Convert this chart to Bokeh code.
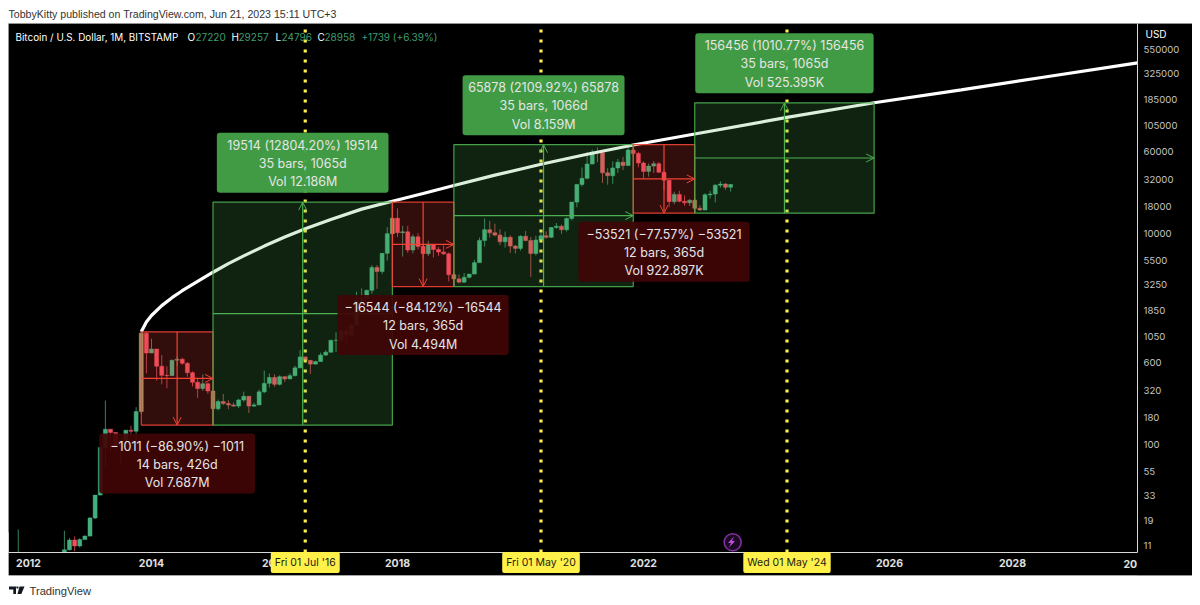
from bokeh.plotting import figure
from bokeh.models import (Range1d, FixedTicker, NumeralTickFormatter, Label, Arrow, OpenHead,
                          BoxAnnotation, PolyAnnotation, ColumnDataSource)
from bokeh.embed import file_html
from bokeh.resources import INLINE

# ---------- DATA ----------
# monthly bars, first bar = Nov 2011
opens = [3.0, 3.1, 4.7, 5.5, 4.9, 4.9, 5.0, 5.2, 6.6, 9.2, 10.0, 12.4, 10.9, 12.5,
         13.5, 20, 33, 93, 139, 129, 97, 106, 136, 133, 204, 1130,
         732, 800, 550, 450, 447, 627, 640, 585, 477, 387, 338, 375,
         320, 217, 254, 244, 236, 230, 263, 285, 230, 236, 314, 378,
         430, 370, 437, 416, 447, 530, 672, 624, 575, 608, 700, 745,
         965, 965, 1190, 1080, 1350, 2300, 2420, 2875, 4735, 4340, 6440, 9900,
         13880, 10100, 10300, 6925, 9240, 7490, 6400, 7730, 7010, 6620, 6370, 4040,
         3690, 3435, 3820, 4100, 5260, 8550, 10800, 10080, 9600, 8290, 9150, 7550,
         7180, 9350, 8520, 6420, 8620, 9450, 9140, 11320, 11650, 10780, 13780, 19700,
         28950, 33100, 45200, 58800, 57700, 37300, 35000, 41500, 47100, 43800, 61300, 57000,
         46200, 38500, 43200, 45500, 37700, 31800, 19900, 23300, 20050, 19400, 20500, 17200,
         16600, 23100, 23500, 28500, 29200, 27220]
highs = [15.6, 4.6, 7.2, 6.5, 5.5, 5.4, 5.4, 6.7, 9.4, 15.2, 12.9, 13.4, 12.9, 13.7,
         20.5, 33, 95, 259, 139, 130, 110, 136, 150, 225, 1163, 1163,
         1000, 800, 700, 548, 630, 680, 660, 600, 490, 415, 460, 385,
         320, 265, 300, 262, 248, 270, 315, 285, 248, 330, 500, 470,
         460, 450, 440, 470, 555, 780, 680, 630, 620, 740, 780, 980,
         1150, 1200, 1350, 1350, 2790, 3000, 2925, 4980, 5000, 6470, 11400, 19666,
         17170, 11750, 11700, 9760, 10000, 7780, 8480, 7750, 7400, 7680, 6570, 4310,
         4070, 4200, 4100, 5600, 9100, 13800, 13100, 12300, 10900, 10370, 9520, 7750,
         9580, 10500, 9180, 9460, 10080, 10400, 11430, 12480, 12050, 14100, 19850, 29300,
         41950, 58350, 61800, 64900, 59500, 41300, 48000, 50500, 52900, 67000, 69000, 59000,
         47900, 45800, 48200, 47400, 40000, 31900, 24700, 25200, 22800, 21000, 21500, 18400,
         23900, 25250, 29200, 31000, 29800, 29257]
lows = [2.0, 2.2, 4.7, 4.2, 4.7, 4.8, 4.9, 5.2, 6.6, 7.1, 9.9, 9.7, 10.5, 12.5,
        13.4, 19.6, 33, 60, 85, 88, 65, 100, 118, 100, 195, 470,
        732, 400, 370, 340, 447, 550, 565, 437, 354, 275, 320, 300,
        152, 210, 235, 215, 226, 220, 253, 198, 225, 235, 305, 345,
        350, 360, 390, 415, 440, 530, 600, 465, 570, 605, 690, 740,
        750, 925, 890, 1060, 1330, 2080, 1830, 2670, 2970, 4110, 5500, 10400,
        9200, 6000, 6500, 6430, 7000, 5750, 6070, 5880, 6100, 6200, 3500, 3122,
        3350, 3370, 3730, 4100, 5350, 7460, 9100, 9320, 7710, 7300, 6500, 6430,
        6850, 8400, 3850, 6150, 8100, 8900, 8980, 11000, 9860, 10370, 13200, 17600,
        27700, 32300, 45000, 47000, 30000, 28800, 29300, 37300, 39600, 43300, 53000, 42000,
        32900, 34300, 37200, 37600, 25400, 17600, 18800, 19600, 18200, 18100, 15480, 16300,
        16500, 21350, 19570, 26900, 25800, 24796]
closes = [3.1, 4.7, 5.5, 4.9, 4.9, 5.0, 5.2, 6.6, 9.2, 10.0, 12.4, 10.9, 12.5, 13.5,
          20, 33, 93, 139, 129, 97, 106, 136, 133, 204, 1130, 732,
          800, 550, 450, 447, 627, 640, 585, 477, 387, 338, 375, 320,
          217, 254, 244, 236, 230, 263, 285, 230, 236, 314, 378, 430,
          370, 437, 416, 447, 530, 672, 624, 575, 608, 700, 745, 965,
          965, 1190, 1080, 1350, 2300, 2420, 2875, 4735, 4340, 6440, 9900, 13880,
          10100, 10300, 6925, 9240, 7490, 6400, 7730, 7010, 6620, 6370, 4040, 3690,
          3435, 3820, 4100, 5260, 8550, 10800, 10080, 9600, 8290, 9150, 7550, 7180,
          9350, 8520, 6420, 8620, 9450, 9140, 11320, 11650, 10780, 13780, 19700, 28950,
          33100, 45200, 58800, 57700, 37300, 35000, 41500, 47100, 43800, 61300, 57000, 46200,
          38500, 43200, 45500, 37700, 31800, 19900, 23300, 20050, 19400, 20500, 17200, 16600,
          23100, 23500, 28500, 29200, 27200, 28958]

# white curve: months since Jan 2012 / price
curve_months = [22, 23, 24, 26, 28, 30, 33, 36, 39, 42, 46, 50, 54, 59, 65, 71,
                77, 83, 91, 100, 109, 118, 130, 148, 165, 182, 198, 216.4]
curve_prices = [1163, 1440, 1660, 2060, 2450, 2850, 3500, 4266, 5150, 6100, 7550, 9200, 11000,
                13500, 16900, 20100, 23800, 28300, 35500, 45000, 56000, 68500, 87000, 125000,
                172000, 228000, 300000, 411000]

# measuring tools: start / end month, top / bottom price, kind
box_starts = [22, 36, 71, 83, 118, 130]
box_ends = [36, 71, 83, 118, 130, 165]
box_tops = [1163, 19666, 19666, 69000, 69000, 171936]
box_bottoms = [152, 152, 3122, 3122, 15480, 15480]
box_kinds = ["down", "up", "down", "up", "down", "up"]
box_line1 = ["−1011 (−86.90%) −1011", "19514 (12804.20%) 19514", "−16544 (−84.12%) −16544",
             "65878 (2109.92%) 65878", "−53521 (−77.57%) −53521", "156456 (1010.77%) 156456"]
box_line2 = ["14 bars, 426d", "35 bars, 1065d", "12 bars, 365d",
             "35 bars, 1066d", "12 bars, 365d", "35 bars, 1065d"]
box_line3 = ["Vol 7.687M", "Vol 12.186M", "Vol 4.494M",
             "Vol 8.159M", "Vol 922.897K", "Vol 525.395K"]

event_months = [54, 100, 148]
event_labels = ["Fri 01 Jul '16", "Fri 01 May '20", "Wed 01 May '24"]

y_ticks = [550000, 325000, 185000, 105000, 60000, 32000, 18000, 10000, 5500, 3250,
           1850, 1050, 600, 320, 180, 100, 55, 33, 19, 11]
x_tick_months = [0, 24, 48, 72, 96, 120, 144, 168, 192]
x_tick_labels = ["2012", "2014", "2016", "2018", "2020", "2022", "2024", "2026", "2028"]

title_text = "TobbyKitty published on TradingView.com, Jun 21, 2023 15:11 UTC+3"
legend_name = "Bitcoin / U.S. Dollar, 1M, BITSTAMP"
legend_keys = ["O", "H", "L", "C"]
legend_vals = ["27220", "29257", "24796", "28958"]
legend_change = "+1739 (+6.39%)"

# ---------- LAYOUT AND STYLE ----------
PX_MONTH = 5.125           # pixels per month
PX_DEC = 105.55            # pixels per price decade
GREEN = "#45ae7e"
RED = "#ee4f5f"
FONT = "Inter"
MUTED = {22: "#a09c70", 71: "#a09c70", 36: "#c4705f", 130: "#c4705f", 83: "#c4705f"}
CHART_L, CHART_R, CHART_T, CHART_B = 8, 1137, 23, 552   # plot area on the canvas
X0_PX, Y0_PX = 28, 49      # canvas position of month 0 and of the 550000 tick


def month_at(px):
    return (px - X0_PX) / PX_MONTH


def price_at(py):
    return 550000 * 10 ** (-(py - Y0_PX) / PX_DEC)


def shift(price, px):
    """price lying px screen pixels above (px>0) or below the given price"""
    return price * 10 ** (px / PX_DEC)


Y_MIN, Y_MAX = price_at(CHART_B), price_at(CHART_T)
X_MIN, X_MAX = month_at(CHART_L), month_at(CHART_R)

first_month = -2
months = [first_month + i for i in range(len(opens))]

p = figure(width=1192, height=597, output_backend="svg", toolbar_location=None,
           x_range=Range1d(month_at(0), month_at(1192)), y_range=Range1d(price_at(597), price_at(0)),
           y_axis_type="log", y_axis_location="right",
           min_border_left=0, min_border_right=0, min_border_top=0, min_border_bottom=0)
p.background_fill_color = "#ffffff"
p.border_fill_color = "#ffffff"
p.outline_line_color = None
p.grid.visible = False


def plate(l, r, t, b, color, level, line=None):
    p.add_layout(BoxAnnotation(left=l, right=r, top=t, bottom=b,
                               left_units="canvas", right_units="canvas", top_units="canvas", bottom_units="canvas",
                               fill_color=color, fill_alpha=1, line_color=line, line_width=1, level=level))


# chart plate below everything
plate(CHART_L, 1192, CHART_T, 575, "#000000", "underlay", line="#c4c4c4")

for ax in (p.xaxis[0], p.yaxis[0]):
    ax.axis_line_color = "#d8d8d8"
    ax.axis_line_width = 1
    ax.major_tick_line_color = None
    ax.major_tick_out = 0
    ax.major_tick_in = 0
    ax.minor_tick_line_color = None
    ax.major_label_text_font = FONT
p.yaxis[0].fixed_location = X_MAX
p.yaxis[0].bounds = (Y_MIN, Y_MAX)
p.yaxis[0].major_label_text_font_size = "9.6px"
p.yaxis[0].ticker = FixedTicker(ticks=y_ticks)
p.yaxis[0].formatter = NumeralTickFormatter(format="0")
p.yaxis[0].major_label_text_color = "#c4c4c4"
p.yaxis[0].major_label_standoff = 6
p.xaxis[0].fixed_location = Y_MIN
p.xaxis[0].bounds = (X_MIN, X_MAX)
p.xaxis[0].major_label_text_font_size = "10.5px"
p.xaxis[0].ticker = FixedTicker(ticks=x_tick_months)
p.xaxis[0].major_label_overrides = dict(zip(x_tick_months, x_tick_labels))
p.xaxis[0].major_label_text_color = "#e0e0e0"
p.xaxis[0].major_label_text_font_style = "bold"
p.xaxis[0].major_label_standoff = 6

# candles
body_cols = [MUTED.get(m, GREEN if c >= o else RED) for m, o, c in zip(months, opens, closes)]
src = ColumnDataSource(dict(x=months, o=opens, h=highs, l=lows, c=closes, col=body_cols,
                            top=[max(a, b) for a, b in zip(opens, closes)],
                            bot=[min(a, b) for a, b in zip(opens, closes)]))
p.segment("x", "h", "x", "l", source=src, line_color="col", line_width=1, line_alpha=0.75)
p.vbar(x="x", bottom="bot", top="top", width=0.78, source=src, fill_color="col", line_color="col", line_width=0.5)

# curve
p.line(curve_months, curve_prices, line_color="#ffffff", line_width=3.2)

# event lines
for m in event_months:
    p.line([m, m], [Y_MIN, Y_MAX], line_color="#fff04a", line_width=3.2, line_dash=[3, 7], line_cap="butt")

# strips under the plot area hide what falls below the price scale
plate(CHART_L, CHART_R, CHART_B, 575, "#000000", "glyph")
plate(CHART_L, CHART_R, 575, 597, "#ffffff", "glyph")
plate(0, CHART_L, CHART_B - 20, 597, "#ffffff", "glyph")

# boxes
for s, e, t, b, k in zip(box_starts, box_ends, box_tops, box_bottoms, box_kinds):
    col = "#f44336" if k == "down" else "#4caf50"
    p.quad(left=[s], right=[e], top=[t], bottom=[b], fill_color=col, fill_alpha=0.2,
           line_color=col, line_width=1.2, line_alpha=0.9)
    mid_x = (s + e) / 2
    mid_y = (t * b) ** 0.5
    p.add_layout(Arrow(end=OpenHead(size=8, line_color=col, line_width=1), x_start=s, y_start=mid_y, x_end=e, y_end=mid_y,
                       line_color=col, line_width=1.2, level="glyph"))
    y_s, y_e = (t, b) if k == "down" else (b, t)
    p.add_layout(Arrow(end=OpenHead(size=8, line_color=col, line_width=1), x_start=mid_x, y_start=y_s, x_end=mid_x, y_end=y_e,
                       line_color=col, line_width=1.2, level="glyph"))

# lightning marker
p.scatter(x=[137.4], y=[11.8], size=17, marker="circle", fill_color="#1b0a22", line_color="#7f2f9e", line_width=1.6)
p.add_layout(PolyAnnotation(xs=[733.5, 727.5, 730.5, 728.5, 734.5, 731.5], ys=[536, 542.5, 542.5, 547, 540.5, 540.5],
                            xs_units="canvas", ys_units="canvas", fill_color="#c24ae6", fill_alpha=1, line_color=None))

# tool labels
half_widths = [15.2, 16.75, 16.7, 15.8, 16.7, 17.4]
for i, (s, e, t, b, k) in enumerate(zip(box_starts, box_ends, box_tops, box_bottoms, box_kinds)):
    mid_x = (s + e) / 2
    l_top = shift(b, -8.5) if k == "down" else shift(t, 9.5 + 60)
    l_bot = shift(l_top, -60)
    hw = half_widths[i]
    col = "#3f0506" if k == "down" else "#43a047"
    p.add_layout(BoxAnnotation(left=mid_x - hw, right=mid_x + hw, top=l_top, bottom=l_bot, fill_color=col,
                               fill_alpha=0.93 if k == "down" else 0.97, line_color=None, border_radius=3,
                               level="annotation"))
    for line, dy in zip((box_line1[i], box_line2[i], box_line3[i]), (12.5, 30.5, 49)):
        p.add_layout(Label(x=mid_x, y=shift(l_top, -dy), text=line, text_align="center", text_baseline="middle",
                           text_font=FONT, text_font_size="12.5px", text_color="#e6e6e6", level="annotation"))


def chrome(text, x, y, size="11px", color="#ffffff", align="left", weight="normal", font=FONT):
    p.add_layout(Label(x=x, y=y, x_units="canvas", y_units="canvas", text=text, text_font=font,
                       text_font_size=size, text_color=color, text_align=align, text_baseline="middle",
                       text_font_style=weight, level="annotation"))


# event tags on the time axis
for m, txt in zip(event_months, event_labels):
    p.add_layout(Label(x=m, y=562, x_units="data", y_units="canvas", text=txt, text_font=FONT,
                       text_font_size="10.5px", text_color="#1c1c10", text_align="center",
                       text_baseline="middle", background_fill_color="#fff04a", background_fill_alpha=1,
                       padding=4, border_radius=2, level="annotation"))

chrome("20", 1123, 563, size="10.5px", color="#e0e0e0", weight="bold")
chrome("USD", 1145, 33, size="10px", color="#ffffff")

# heading and legend
chrome(title_text, 8, 13, size="10.6px", color="#333333", font="Liberation Sans")
chrome(legend_name, 15, 36, size="9.9px", color="#ffffff")
for key, val, kx, vx in zip(legend_keys, legend_vals, [187, 231, 275, 317], [195, 238, 281, 324]):
    chrome(key, kx, 36, size="10px", color="#ffffff")
    chrome(val, vx, 36, size="10px", color="#3f9c6f")
chrome(legend_change, 361, 36, size="10px", color="#3f9c6f")

# footer
chrome("TradingView", 29, 590, size="11.2px", color="#333333", font="Liberation Sans")
logo_col = "#131722"
p.add_layout(PolyAnnotation(xs=[8.5, 15.5, 15.5, 12.8, 12.8, 11.2, 11.2, 8.5], ys=[586, 586, 593.5, 593.5, 589, 589, 589, 589],
                            xs_units="canvas", ys_units="canvas", fill_color=logo_col, fill_alpha=1, line_color=None))
p.add_layout(PolyAnnotation(xs=[19, 24, 20.8, 17], ys=[586, 586, 593.5, 593.5],
                            xs_units="canvas", ys_units="canvas", fill_color=logo_col, fill_alpha=1, line_color=None))
p.add_layout(PolyAnnotation(xs=[15.9, 17.9, 17.9, 15.9], ys=[586, 586, 588, 588],
                            xs_units="canvas", ys_units="canvas", fill_color=logo_col, fill_alpha=1, line_color=None))

open("out.html", "w").write(file_html(p, INLINE))
